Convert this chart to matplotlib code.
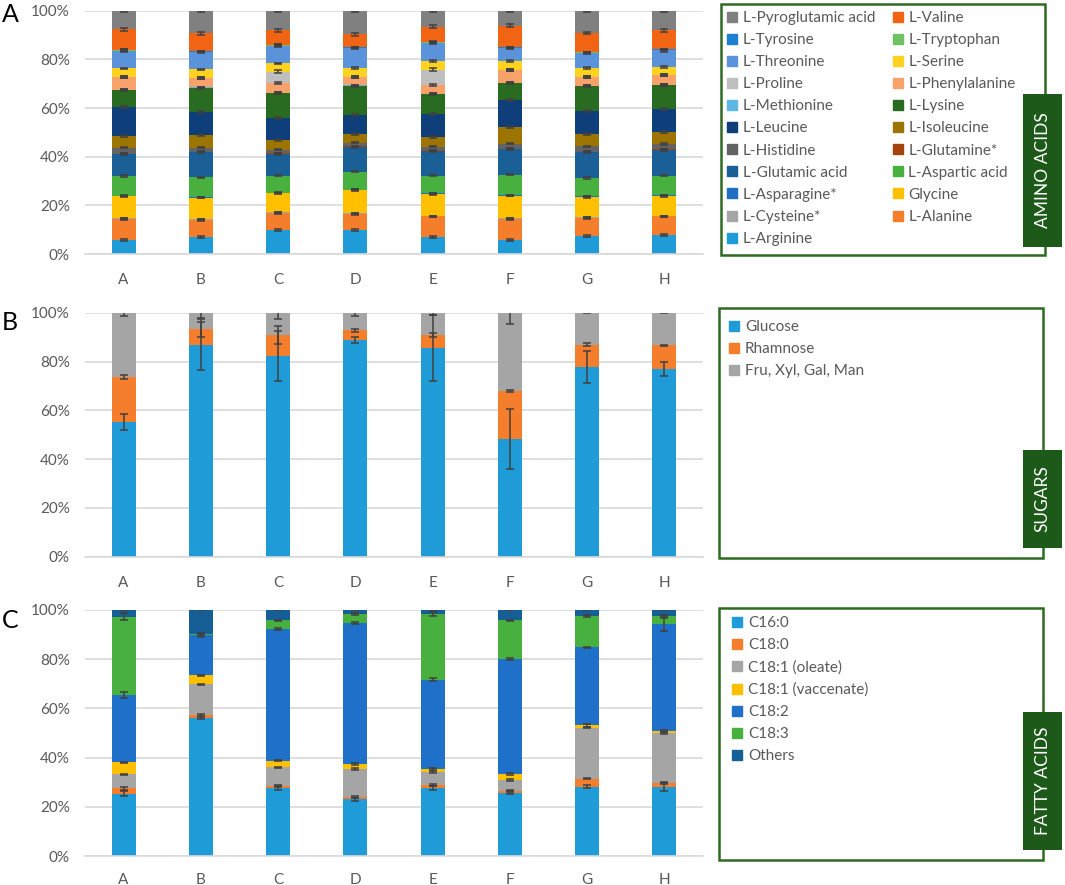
import matplotlib.pyplot as plt
import numpy as np
from matplotlib.patches import Rectangle
from matplotlib.lines import Line2D

plt.rcParams['font.family'] = ['Lato', 'DejaVu Sans']

W, H = 1065, 885

samples = ['A', 'B', 'C', 'D', 'E', 'F', 'G', 'H']

# ---- amino acids (bottom to top of the stack) ----
amino_names = ['L-Arginine', 'L-Alanine', 'L-Cysteine*', 'Glycine', 'L-Asparagine*',
               'L-Aspartic acid', 'L-Glutamic acid', 'L-Glutamine*', 'L-Histidine',
               'L-Isoleucine', 'L-Leucine', 'L-Lysine', 'L-Methionine',
               'L-Phenylalanine', 'L-Proline', 'L-Serine', 'L-Threonine',
               'L-Tryptophan', 'L-Tyrosine', 'L-Valine', 'L-Pyroglutamic acid']
amino_colors = ['#1F9BD7', '#F47E2C', '#A5A5A5', '#FFC000', '#1F6FC5',
                '#47B03F', '#1A5F96', '#A5430F', '#636363',
                '#9C7400', '#0E3F7A', '#2A6B22', '#5FB7E6',
                '#F7A16B', '#BFBFBF', '#FFD220', '#5B93DB',
                '#6FC163', '#1C7FD0', '#F06414', '#808080']
amino_values = [
    [6.0, 7.1, 10.1, 9.9, 7.0, 5.9, 7.4, 7.8],     # Arginine
    [8.6, 7.1, 7.0, 6.8, 8.6, 8.8, 7.7, 7.8],      # Alanine
    [0.2, 0.2, 0.2, 0.2, 0.2, 0.2, 0.2, 0.2],      # Cysteine*
    [9.2, 9.0, 7.9, 9.6, 9.2, 9.3, 8.5, 8.4],      # Glycine
    [0.2, 0.2, 0.2, 0.2, 0.2, 0.2, 0.2, 0.2],      # Asparagine*
    [8.2, 8.2, 7.1, 7.5, 7.4, 8.6, 7.7, 8.2],      # Aspartic acid
    [9.0, 10.5, 9.2, 10.3, 10.3, 10.4, 10.7, 10.8],  # Glutamic acid
    [0.2, 0.2, 0.2, 0.2, 0.2, 0.2, 0.2, 0.2],      # Glutamine*
    [2.6, 1.6, 1.4, 1.6, 1.6, 2.2, 2.2, 2.2],      # Histidine
    [4.9, 5.2, 4.1, 3.6, 4.1, 6.8, 5.2, 4.9],      # Isoleucine
    [11.9, 9.6, 8.9, 7.8, 9.5, 11.2, 9.6, 9.6],    # Leucine
    [7.1, 10.0, 10.5, 12.3, 8.2, 7.1, 10.3, 9.9],  # Lysine
    [0.2, 0.2, 0.2, 0.2, 0.2, 0.2, 0.2, 0.2],      # Methionine
    [5.2, 3.8, 3.8, 3.4, 3.7, 5.3, 3.7, 4.0],      # Phenylalanine
    [0.0, 0.0, 4.9, 0.0, 6.3, 0.0, 0.0, 0.0],      # Proline
    [3.6, 3.7, 3.4, 3.7, 3.6, 3.7, 3.6, 3.3],      # Serine
    [7.4, 7.1, 7.4, 8.2, 7.5, 5.3, 6.3, 7.0],      # Threonine
    [0.2, 0.2, 0.2, 0.2, 0.2, 0.2, 0.2, 0.2],      # Tryptophan
    [0.2, 0.2, 0.2, 0.2, 0.2, 0.2, 0.2, 0.2],      # Tyrosine
    [8.5, 7.5, 5.9, 5.5, 6.4, 8.9, 7.9, 7.9],      # Valine
    [7.7, 9.3, 8.2, 9.7, 6.6, 6.3, 9.3, 8.2],      # Pyroglutamic acid
]
amino_err = [0.4, 0.4, 0.2, 0.3, 0.2, 0.3, 0.4, 0.2, 0.3, 0.4, 0.4,
             0.4, 0.2, 0.4, 0.5, 0.3, 0.5, 0.2, 0.2, 0.6, 0.5]

# ---- sugars ----
sugar_names = ['Glucose', 'Rhamnose', 'Fru, Xyl, Gal, Man']
sugar_colors = ['#1F9BD7', '#F47E2C', '#A5A5A5']
sugar_values = [
    [55.3, 86.9, 82.2, 88.7, 85.5, 48.4, 77.7, 76.9],
    [18.3, 6.3, 8.6, 4.1, 5.3, 19.4, 9.2, 9.7],
    [26.4, 6.8, 9.2, 7.2, 9.2, 32.2, 13.1, 13.4],
]
sugar_err = [
    [3.3, 10.4, 10.2, 1.3, 13.4, 12.3, 6.7, 2.7],
    [0.9, 3.1, 3.7, 0.6, 0.7, 0.5, 0.5, 0.2],
    [1.4, 2.3, 2.6, 1.2, 1.1, 4.5, 0.2, 0.2],
]

# ---- fatty acids ----
fatty_names = ['C16:0', 'C18:0', 'C18:1 (oleate)', 'C18:1 (vaccenate)',
               'C18:2', 'C18:3', 'Others']
fatty_colors = ['#1F9BD7', '#F47E2C', '#A5A5A5', '#FFC000',
                '#1F70C8', '#47B03F', '#155E96']
fatty_values = [
    [25.3, 55.9, 27.8, 23.1, 27.8, 25.5, 28.2, 28.2],
    [2.3, 1.4, 0.7, 1.0, 1.1, 1.1, 3.3, 1.5],
    [5.6, 12.4, 7.6, 11.3, 5.2, 4.3, 20.7, 20.3],
    [4.9, 3.7, 2.7, 1.9, 1.4, 2.5, 0.9, 0.8],
    [27.4, 16.3, 53.4, 57.2, 36.1, 46.7, 31.6, 43.4],
    [31.7, 0.4, 3.5, 3.9, 26.6, 15.6, 12.9, 3.1],
    [2.8, 9.9, 4.3, 1.6, 1.8, 4.3, 2.4, 2.7],
]
fatty_err = [
    [1.0, 0.4, 0.9, 0.5, 0.9, 0.4, 0.6, 1.7],
    [0.6, 0.5, 0.3, 0.3, 0.3, 0.3, 0.3, 0.3],
    [0.3, 0.3, 0.3, 0.4, 0.3, 0.3, 0.3, 0.3],
    [0.3, 0.2, 0.3, 0.4, 0.4, 0.3, 0.6, 0.3],
    [1.3, 0.7, 0.3, 0.5, 0.6, 0.3, 0.3, 2.7],
    [1.4, 0.2, 0.3, 0.4, 0.7, 0.3, 0.4, 0.5],
    [0.3, 0.2, 0.3, 0.3, 0.3, 0.2, 0.3, 0.3],
]

GRID = '#D9D9D9'
TXT = '#595959'
BOX_GREEN = '#2E6B22'
TAG_GREEN = '#1D5A19'


def frac(x0, y0, x1, y1):
    """pixel box (top-left origin) -> figure fraction [l, b, w, h]"""
    return [x0 / W, 1 - y1 / H, (x1 - x0) / W, (y1 - y0) / H]


def stacked_panel(ax, colors, values, errors, xpad):
    vals = np.array(values, dtype=float)
    vals = vals / vals.sum(axis=0) * 100
    err = np.array(errors, dtype=float)
    if err.ndim == 1:
        err = np.repeat(err[:, None], vals.shape[1], axis=1)
    x = np.arange(len(samples))
    bottom = np.zeros(len(samples))
    tops = []
    for v, c in zip(vals, colors):
        ax.bar(x, v, 0.31, bottom=bottom, color=c, zorder=2)
        bottom = bottom + v
        tops.append(bottom.copy())
    for t, e in zip(tops, err):
        ax.errorbar(x, t, yerr=e, fmt='none', ecolor='#404040', elinewidth=1.1,
                    capsize=2.8, capthick=1.1, zorder=3)
    ax.set_xlim(-0.5, len(samples) - 0.5)
    ax.set_ylim(0, 100)
    ax.set_yticks(np.arange(0, 101, 20))
    ax.set_yticklabels(['{}%'.format(v) for v in range(0, 101, 20)])
    ax.set_xticks(x)
    ax.set_xticklabels(samples)
    ax.grid(axis='y', color=GRID, linewidth=1.2, zorder=0)
    ax.set_axisbelow(True)
    for s in ['top', 'right', 'left']:
        ax.spines[s].set_visible(False)
    ax.spines['bottom'].set_color(GRID)
    ax.spines['bottom'].set_linewidth(1.2)
    ax.tick_params(axis='both', length=0, colors=TXT, labelsize=11)
    ax.tick_params(axis='y', pad=11)
    ax.tick_params(axis='x', pad=xpad)


def legend_box(fig, box, tag, tag_text, names, colors, ncol, leg_xy):
    fig.patches.append(Rectangle((box[0] / W, 1 - box[3] / H),
                                 (box[2] - box[0]) / W, (box[3] - box[1]) / H,
                                 transform=fig.transFigure, facecolor='white',
                                 edgecolor=BOX_GREEN, linewidth=1.8, zorder=1))
    fig.patches.append(Rectangle((tag[0] / W, 1 - tag[3] / H),
                                 (tag[2] - tag[0]) / W, (tag[3] - tag[1]) / H,
                                 transform=fig.transFigure, facecolor=TAG_GREEN,
                                 edgecolor='none', zorder=2))
    fig.text((tag[0] + tag[2]) / 2 / W, 1 - (tag[1] + tag[3]) / 2 / H, tag_text,
             rotation=90, ha='center', va='center', color='white', fontsize=12.5,
             zorder=3)
    handles = [Line2D([], [], marker='s', linestyle='none', markersize=6.5,
                      markerfacecolor=c, markeredgecolor=c) for c in colors]
    if ncol == 2:
        order = list(range(0, len(names), 2)) + list(range(1, len(names), 2))
        handles = [handles[i] for i in order]
        names = [names[i] for i in order]
    leg = fig.legend(handles, names, loc='upper left',
                     bbox_to_anchor=(leg_xy[0] / W, 1 - leg_xy[1] / H),
                     ncol=ncol, frameon=False, fontsize=11, handlelength=0.7,
                     handletextpad=0.35, labelspacing=0.53, columnspacing=1.1,
                     borderpad=0, borderaxespad=0)
    for t in leg.get_texts():
        t.set_color(TXT)
    leg.set_zorder(4)


fig = plt.figure(figsize=(W / 100, H / 100), dpi=100)

ax_a = fig.add_axes(frac(85, 10.7, 703, 254))
ax_b = fig.add_axes(frac(85, 312.7, 703, 556.7))
ax_c = fig.add_axes(frac(85, 609.7, 703, 856.3))

stacked_panel(ax_a, amino_colors, amino_values, amino_err, 14)
stacked_panel(ax_b, sugar_colors, sugar_values, sugar_err, 14)
stacked_panel(ax_c, fatty_colors, fatty_values, fatty_err, 12)

for letter, yc in [('A', 15), ('B', 322), ('C', 620)]:
    fig.text(2 / W, 1 - yc / H, letter, fontsize=18, color='black',
             ha='left', va='center')

legend_box(fig, (721, 4, 1045, 255), (1023, 94, 1062, 247), 'AMINO ACIDS',
           amino_names[::-1], amino_colors[::-1], 2, (727, 11))
legend_box(fig, (719, 308, 1043, 558), (1023, 450, 1062, 548), 'SUGARS',
           sugar_names, sugar_colors, 1, (729, 320))
legend_box(fig, (719, 608, 1043, 860), (1023, 712, 1062, 850), 'FATTY ACIDS',
           fatty_names, fatty_colors, 1, (732, 616))

fig.savefig('out.png', dpi=100)
